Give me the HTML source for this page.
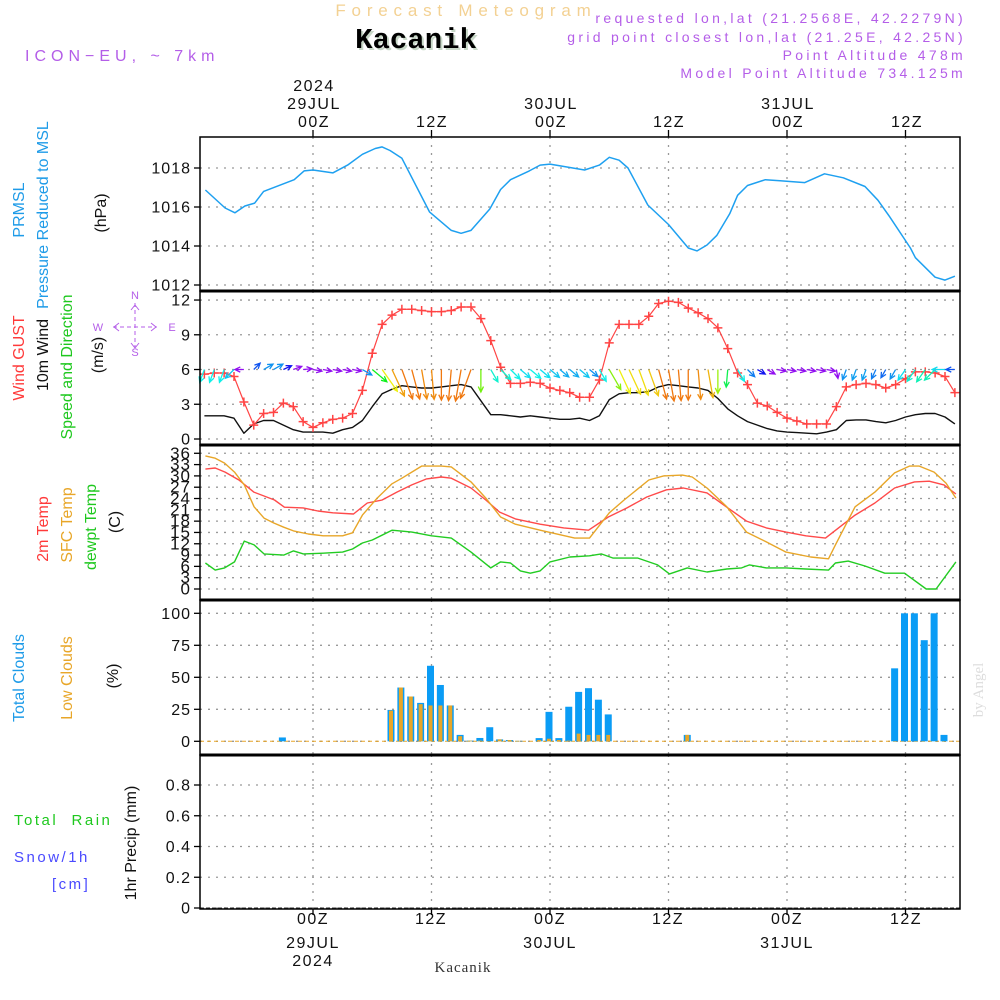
<!DOCTYPE html>
<html><head><meta charset="utf-8"><style>
html,body{margin:0;padding:0;background:#fff;}
svg{display:block;font-family:"Liberation Sans",sans-serif;}
</style></head><body>
<svg id="chart" width="1000" height="1000" viewBox="0 0 1000 1000" xmlns="http://www.w3.org/2000/svg">
<g id="texts">
<text x="466" y="16" font-size="17" fill="#f3d193" text-anchor="middle" letter-spacing="5.8">Forecast Meteogram</text>
<text x="418" y="50" font-size="29" font-weight="bold" font-family="Liberation Mono, monospace" fill="#c8d8c8" text-anchor="middle">Kacanik</text>
<text x="416" y="48" font-size="29" font-weight="bold" font-family="Liberation Mono, monospace" fill="#000" text-anchor="middle">Kacanik</text>
<text x="25" y="61" font-size="16" fill="#b45ee8" letter-spacing="5">ICON−EU, ~ 7km</text>
<g font-size="14" fill="#b45ee8" text-anchor="end" letter-spacing="3.3">
<text x="966" y="23">requested lon,lat (21.2568E, 42.2279N)</text>
<text x="966" y="42">grid point closest lon,lat (21.25E, 42.25N)</text>
<text x="966" y="60">Point Altitude 478m</text>
<text x="966" y="78">Model Point Altitude 734.125m</text>
</g>
<g font-size="16" fill="#111" text-anchor="middle" letter-spacing="1.5">
<text x="314" y="91">2024</text>
<text x="314" y="109">29JUL</text>
<text x="551" y="109">30JUL</text>
<text x="788" y="109">31JUL</text>
<text x="314" y="127">00Z</text>
<text x="432" y="127">12Z</text>
<text x="551" y="127">00Z</text>
<text x="669" y="127">12Z</text>
<text x="788" y="127">00Z</text>
<text x="907" y="127">12Z</text>
<text x="313" y="924">00Z</text>
<text x="431" y="924">12Z</text>
<text x="550" y="924">00Z</text>
<text x="668" y="924">12Z</text>
<text x="787" y="924">00Z</text>
<text x="906" y="924">12Z</text>
<text x="313" y="948">29JUL</text>
<text x="550" y="948">30JUL</text>
<text x="787" y="948">31JUL</text>
<text x="313" y="966">2024</text>
</g>
<text x="463" y="972" font-size="15" font-family="Liberation Serif, serif" fill="#333" text-anchor="middle" letter-spacing="1">Kacanik</text>
<text transform="translate(983,690) rotate(-90)" font-size="15" font-family="Liberation Serif, serif" fill="#ddd" text-anchor="middle">by Angel</text>
<g font-size="16" text-anchor="middle">
<text transform="translate(24,210) rotate(-90)" fill="#1e9be8">PRMSL</text>
<text transform="translate(48,215) rotate(-90)" fill="#1e9be8">Pressure Reduced to MSL</text>
<text transform="translate(106,213) rotate(-90)" fill="#111">(hPa)</text>
<text transform="translate(24,358) rotate(-90)" fill="#ff3a3a">Wind GUST</text>
<text transform="translate(48,355) rotate(-90)" fill="#111">10m Wind</text>
<text transform="translate(72,367) rotate(-90)" fill="#1ec81e">Speed and Direction</text>
<text transform="translate(103,355) rotate(-90)" fill="#111">(m/s)</text>
<text transform="translate(48,529) rotate(-90)" fill="#ff3a3a">2m Temp</text>
<text transform="translate(72,525) rotate(-90)" fill="#e8a628">SFC Temp</text>
<text transform="translate(96,527) rotate(-90)" fill="#1ec81e">dewpt Temp</text>
<text transform="translate(120,522) rotate(-90)" fill="#111">(C)</text>
<text transform="translate(24,678) rotate(-90)" fill="#1e9be8">Total Clouds</text>
<text transform="translate(72,678) rotate(-90)" fill="#e8a628">Low Clouds</text>
<text transform="translate(118,676) rotate(-90)" fill="#111">(%)</text>
<text transform="translate(136,843) rotate(-90)" fill="#111">1hr Precip (mm)</text>
</g>
<g font-size="15" letter-spacing="2.5">
<text x="14" y="825" fill="#1ec81e" xml:space="preserve">Total  Rain</text>
<text x="14" y="862" fill="#4a4aff">Snow/1h</text>
<text x="52" y="889" fill="#4a4aff">[cm]</text>
</g>
<g fill="#b45ee8" stroke="#b45ee8" font-size="11" text-anchor="middle">
<text x="135" y="299" stroke="none">N</text>
<text x="135" y="356" stroke="none">S</text>
<text x="98" y="331" stroke="none">W</text>
<text x="172" y="331" stroke="none">E</text>
<line x1="135" y1="303" x2="135" y2="347" stroke-dasharray="4,3"/>
<line x1="113" y1="327" x2="157" y2="327" stroke-dasharray="4,3"/>
<polyline points="131,310 135,305 139,310" fill="none"/>
<polyline points="131,343 135,348 139,343" fill="none"/>
<polyline points="119,323 114,327 119,331" fill="none"/>
<polyline points="151,323 156,327 151,331" fill="none"/>
</g>
</g>
<g id="plot"></g>
</svg>
<script>
// ---------- data ----------
// Pressure (hPa) - times in hours from 29JUL 00Z
const presTimes = [-10.9,-8.9,-7.9,-6.9,-5.9,-5,-1.9,-0.9,0,2,3.5,5,6.3,7,7.8,9,11.8,14,15,16,17.9,19,20,21.9,23,24,27.5,29,30,31,31.9,33.9,36,38,38.9,39.9,40.9,42.2,43,44,45.8,47.3,49.8,51.8,53.7,55.9,57.2,58.4,60.5,61,63,64,65];
const presValues = [1016.87,1015.95,1015.7,1016.05,1016.2,1016.8,1017.4,1017.85,1017.9,1017.75,1018.15,1018.7,1019.0,1019.08,1018.9,1018.5,1015.75,1014.8,1014.65,1014.8,1015.9,1016.9,1017.4,1017.85,1018.15,1018.2,1017.9,1018.15,1018.55,1018.4,1018.0,1016.1,1015.1,1013.9,1013.75,1014.05,1014.55,1015.65,1016.6,1017.1,1017.4,1017.35,1017.25,1017.7,1017.5,1017.05,1016.35,1015.5,1013.9,1013.4,1012.4,1012.25,1012.45];
// Hourly series start hour
const hourStart = -11;
const gustValues = [5.6,5.7,5.7,5.4,3.2,1.2,2.2,2.3,3.1,2.8,1.5,1.0,1.4,1.7,1.8,2.2,4.2,7.4,9.9,10.7,11.2,11.2,11.1,11.0,11.0,11.1,11.4,11.4,10.4,8.5,6.2,4.8,4.8,4.9,4.8,4.4,4.2,4.0,3.6,3.6,5.1,8.3,9.9,9.9,9.9,10.6,11.7,11.9,11.8,11.3,10.9,10.4,9.6,7.8,5.7,4.7,3.1,2.85,2.3,1.8,1.55,1.3,1.3,1.3,2.8,4.5,4.7,4.8,4.7,4.4,4.7,5.2,5.8,5.8,5.7,5.4,4.0];
const windSpeed = [2.0,2.0,2.0,1.8,0.5,1.3,1.6,1.6,1.2,0.8,0.6,0.6,0.6,0.5,0.8,1.0,1.6,2.8,3.9,4.3,4.6,4.5,4.4,4.4,4.5,4.6,4.7,4.5,3.3,2.1,2.1,2.0,1.9,2.0,1.9,1.8,1.7,1.7,1.8,1.6,2.0,3.4,3.9,4.0,4.0,4.1,4.5,4.7,4.6,4.5,4.4,4.2,3.5,2.6,2.0,1.5,1.2,0.9,0.7,0.6,0.55,0.5,0.45,0.6,0.8,1.6,1.65,1.65,1.5,1.4,1.6,1.9,2.1,2.2,2.2,1.9,1.3];
const windDir = [20,20,20,45,90,225,240,240,245,250,265,280,280,280,280,280,300,310,325,335,340,345,350,355,0,5,10,20,0,330,315,315,310,310,310,310,310,310,310,310,330,330,335,335,340,340,345,350,355,0,355,350,0,5,330,315,300,300,280,280,280,280,280,280,350,20,20,20,25,30,30,35,35,35,45,90,90];
// Temperatures (C)
const t2mTimes = [-10.9,-9.9,-8.9,-7.5,-6,-3.9,-2.9,-1,0.5,2,4.1,5.5,7,8.5,10,11.5,13,14,16,17.5,18.9,20.5,23,25.4,27.9,29.9,31.8,33.8,35.8,37.5,39.9,41.9,43.9,45.9,47.9,49.9,51.9,54.9,56.9,58.9,60.9,62.4,63.9,65.1];
const t2mValues = [31.8,32.1,31,28.9,25.7,23.6,21.7,21.5,20.7,20.2,19.9,22.8,23.6,25.7,27.6,29.2,29.7,29.4,26.8,23.6,20.4,18.6,17.2,16.2,15.6,19.1,21.5,24.4,26.3,26.8,25.5,21.7,18.0,16.2,15.1,14.1,13.5,19.6,22.8,26.8,28.4,28.6,27.6,25.2];
const sfcTimes = [-10.9,-9.9,-8.95,-7.95,-6.96,-5.96,-4.96,-3.97,-2.97,-1.97,-0.48,1.02,3.0,4.0,5.0,6.5,8.0,9.0,10.5,11.0,13.0,14.0,16.0,17.5,19.0,20.5,23.0,25.5,26.5,28.0,30.0,31.5,34.0,35.5,37.4,38.4,39.9,41.9,43.9,45.9,47.9,50.4,52.2,52.9,54.9,56.9,58.9,60.4,61.4,62.9,64.1,65.1];
const sfcValues = [35.3,34.7,33.4,31,27.6,21.8,18.8,17.5,16.4,15.4,14.6,14.1,14.1,14.9,19.6,24.1,27.9,29.4,31.8,32.6,32.6,32.4,28.4,24.1,19.1,17.2,15.6,14.1,13.5,13.5,20.2,23.6,28.9,30,30.2,29.7,26.8,21.8,15.1,12.5,9.8,8.5,8.0,11.7,21.8,25.7,30.8,32.6,32.6,31,28.1,24.1];
const dewTimes = [-10.9,-9.9,-8.95,-7.95,-6.96,-5.96,-4.96,-2.97,-1.97,-0.97,1.02,3.0,4.0,5.0,6.0,8.0,10.0,12.0,14.0,16.0,18.0,19.0,20.0,21.0,22.0,23.0,24.0,26.0,28.0,29.2,30.4,32.9,34.9,36.1,37.9,39.9,41.9,43.4,44.2,45.9,47.9,49.9,52.2,52.9,54.2,55.9,57.9,59.9,62.1,63.1,65.1];
const dewValues = [6.9,5.0,5.6,7.2,12.7,11.7,9.3,9.0,10.1,9.3,9.5,9.8,10.6,12.2,13,15.6,15.1,14.1,13.5,9.8,5.6,7.2,6.9,4.8,4.2,4.8,7.2,8.5,8.8,9.3,8.2,8.2,6.4,4.0,5.6,4.5,5.3,5.6,6.4,5.6,5.6,5.3,5.0,6.9,7.4,6.1,4.2,4.2,0,0,7.2];
// Clouds (%)
const cloudHours = [-3,8,9,10,11,12,13,14,15,16,17,18,19,20,21,23,24,25,26,27,28,29,30,38,59,60,61,62,63,64];
const cloudTotal = [3,24.5,42,35,30,59,44,28,5,0.5,2.6,11,1.5,1,0.3,2.5,23,2.5,27,38.6,41.5,32.5,21,5,57,100,100,79,100,5];
const cloudLow = [0,24,42,35,29,28,28,28,4,0.5,0.5,0,1.5,1,0.3,1,2,1,0.5,6,5,5,5,5,0,0,0,0,0,0];
// Precip (mm) - none in this forecast
const precipValues = [];
// Tick labels
const presTicks = [1012,1014,1016,1018];
const windTicks = [0,3,6,9,12];
const tempTicks = [0,3,6,9,12,15,18,21,24,27,30,33,36];
const cloudTicks = [0,25,50,75,100];
const precipTicks = [0,0.2,0.4,0.6,0.8];
const timeGridHours = [0,12,24,36,48,60];

// ---------- scales ----------
const X0 = 200, X1 = 960;
function xS(h){ return 313 + h*9.875; }
function yP(p){ return 168 + (1018-p)*19.5; }
function yW(v){ return 439 - v*11.58; }
function yT(t){ return 589 - t*3.77; }
function yC(c){ return 741.3 - c*1.28; }
function yR(r){ return 908 - r*153.75; }
const panels = [[137,291],[291,445],[445,600],[600,755],[755,909]];

const NS = 'http://www.w3.org/2000/svg';
const plot = document.getElementById('plot');
function mk(tag, attrs, parent){
  const e = document.createElementNS(NS, tag);
  for (const k in attrs) e.setAttribute(k, attrs[k]);
  (parent||plot).appendChild(e);
  return e;
}

panels.forEach((p,pi)=>{
  timeGridHours.forEach(h=>{
    const l = mk('line',{x1:xS(h),x2:xS(h),y1:p[0],y2:p[1],stroke:'#999','stroke-width':1.3,'stroke-dasharray':'2,6'});
    
    
  });
});
function hGrid(ticks, fn, fmt, name, fs){
  ticks.forEach(t=>{
    const y = fn(t);
    const l = mk('line',{x1:X0,x2:X1,y1:y,y2:y,stroke:'#999','stroke-width':1.3,'stroke-dasharray':'2,6'});
    
    
    const tk = mk('line',{x1:X0-6,x2:X0,y1:y,y2:y,stroke:'#000','stroke-width':1.3});
    
    
    const tx = mk('text',{x:X0-9,y:y+5.5,'font-size':fs||16,'text-anchor':'end',fill:'#111','letter-spacing':1});
    tx.textContent = fmt(t);
    
    
  });
}
hGrid(presTicks, yP, t=>String(t), 'pressure');
hGrid(windTicks, yW, t=>String(t), 'wind');
hGrid(tempTicks, yT, t=>String(t), 'temp', 17);
hGrid(cloudTicks, yC, t=>String(t), 'cloud');
hGrid(precipTicks, yR, t=>t===0?'0':t.toFixed(1), 'precip');

function line(times, vals, fn, color, name, w){
  const n = Math.min(times.length, vals.length);
  const pts = [];
  for (let i=0;i<n;i++) pts.push(xS(times[i]).toFixed(1)+','+fn(vals[i]).toFixed(1));
  const pl = mk('polyline',{points:pts.join(' '),fill:'none',stroke:color,'stroke-width':w||1.4,'stroke-linejoin':'round'});
  
  
}
line(presTimes, presValues, yP, '#1ea0f0', 'pressure-line', 1.5);

const hourTimes = windSpeed.map((v,i)=>hourStart+i);
line(hourTimes, windSpeed, yW, '#111', 'wind-speed-line', 1.4);
line(gustValues.map((v,i)=>hourStart+i), gustValues, yW, '#ff4444', 'gust-line', 1.2);
gustValues.forEach((v,i)=>{
  const x = xS(hourStart+i), y = yW(v);
  const m = mk('path',{d:`M${x-4.5},${y}H${x+4.5}M${x},${y-4.5}V${y+4.5}`,stroke:'#ff4444','stroke-width':1.5});
  
  
});
const hueStops = [[0,275],[1.0,275],[1.3,222],[1.6,205],[2.0,178],[3.0,110],[4.0,55],[4.5,28],[9,28]];
function hueFor(s){
  for (let k=1;k<hueStops.length;k++){
    if (s<=hueStops[k][0]){
      const a=hueStops[k-1], b=hueStops[k];
      return a[1]+(b[1]-a[1])*(s-a[0])/(b[0]-a[0]);
    }
  }
  return 28;
}
windDir.forEach((d,i)=>{
  const s = windSpeed[i];
  const x = xS(hourStart+i), y = yW(6);
  const len = Math.max(9, 6.8*s);
  const r = d*Math.PI/180;
  const dx = -Math.sin(r), dy = Math.cos(r);
  const ex = x+dx*len, ey = y+dy*len;
  const col = `hsl(${hueFor(s)},88%,50%)`;
  const a = Math.atan2(dy,dx), hl = 6;
  const h1x = ex - hl*Math.cos(a-0.45), h1y = ey - hl*Math.sin(a-0.45);
  const h2x = ex - hl*Math.cos(a+0.45), h2y = ey - hl*Math.sin(a+0.45);
  const ar = mk('path',{d:`M${x},${y}L${ex},${ey}M${h1x},${h1y}L${ex},${ey}L${h2x},${h2y}`,stroke:col,'stroke-width':1.3,fill:'none'});
  
  
});

line(t2mTimes, t2mValues, yT, '#ff4a4a', 't2m-line', 1.4);
line(sfcTimes, sfcValues, yT, '#e8a628', 'sfc-temp-line', 1.4);
line(dewTimes, dewValues, yT, '#22cc22', 'dewpoint-line', 1.4);

const bl = mk('line',{x1:X0,x2:X1,y1:yC(0),y2:yC(0),stroke:'#e8a628','stroke-width':1,'stroke-dasharray':'4,3'});


cloudHours.forEach((h,i)=>{
  const cx = xS(h)-1;
  const t = cloudTotal[i], l = cloudLow[i];
  const b = mk('rect',{x:cx-3.5,y:yC(t),width:7,height:yC(0)-yC(t),fill:'#0a9cf5'});
  
  
  const lb = mk('rect',{x:cx-2,y:yC(l),width:4,height:yC(0)-yC(l),fill:'#e8a628'});
  
  
});
const pb = mk('line',{x1:X0,x2:X1,y1:yR(0),y2:yR(0),stroke:'#333','stroke-width':1,'stroke-dasharray':'4,2'});



panels.forEach((p,pi)=>{
  const r = mk('rect',{x:X0,y:p[0],width:X1-X0,height:p[1]-p[0],fill:'none',stroke:'#000','stroke-width':1.5});
  
  
});
[291,445,600,755].forEach(y=>{
  const l = mk('line',{x1:X0,x2:X1,y1:y,y2:y,stroke:'#000','stroke-width':3});
  
  
});
timeGridHours.forEach(h=>{
  const t1 = mk('line',{x1:xS(h),x2:xS(h),y1:130,y2:137,stroke:'#000','stroke-width':1.3});
  
  
  const t2 = mk('line',{x1:xS(h),x2:xS(h),y1:909,y2:915,stroke:'#000','stroke-width':1.3});
  
  
});
</script>
</body></html>
